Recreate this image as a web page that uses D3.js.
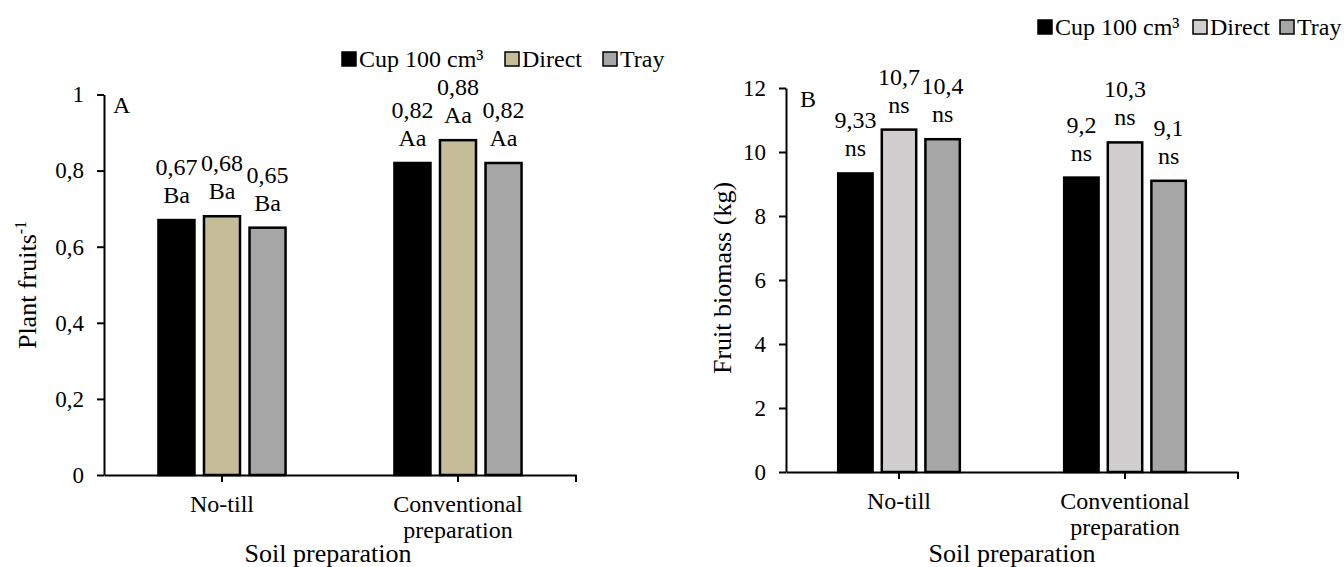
<html>
<head>
<meta charset="utf-8">
<script src="https://d3js.org/d3.v7.min.js"></script>
</head>
<body style="margin:0">
<script>
// DATA
var categories = ["No-till", "Conventional preparation"];
var seriesNames = ["Cup 100 cm³", "Direct", "Tray"];
var fruitsValues = [[0.67, 0.68, 0.65], [0.82, 0.88, 0.82]];
var fruitsLetters = [["Ba", "Ba", "Ba"], ["Aa", "Aa", "Aa"]];
var fruitsTicks = [0, 0.2, 0.4, 0.6, 0.8, 1];
var biomassValues = [[9.33, 10.7, 10.4], [9.2, 10.3, 9.1]];
var biomassLetters = [["ns", "ns", "ns"], ["ns", "ns", "ns"]];
var biomassTicks = [0, 2, 4, 6, 8, 10, 12];

var font = "'Liberation Serif', 'Times New Roman', serif";

var svg = d3.select("body").append("svg")
  .attr("width", 1344)
  .attr("height", 567)
  .style("background", "white")
  .style("display", "block");

// decimal comma
function fmt(v) { return String(v).replace(".", ","); }

//FUNCTION: draw one panel
function drawPanel(p) {
  var g = svg.append("g");

  var x = d3.scaleBand().domain(categories).range(p.xRange);
  var y = d3.scaleLinear().domain([0, p.max]).range(p.yRange);
  var groupW = x.bandwidth() * 0.547;
  var inner = d3.scaleBand().domain(seriesNames).range([0, groupW]).paddingInner(0.165);

  // bars
  var rows = [];
  categories.forEach(function (c, i) {
    seriesNames.forEach(function (s, j) {
      rows.push({ cat: c, ser: s, j: j, v: p.values[i][j], letter: p.letters[i][j] });
    });
  });

  var bx = function (d) { return x(d.cat) + x.bandwidth() / 2 - groupW / 2 + inner(d.ser); };

  g.selectAll("rect.bar").data(rows).enter().append("rect")
    .attr("class", "bar")
    .attr("x", function (d) { return bx(d) + 1; })
    .attr("y", function (d) { return y(d.v); })
    .attr("width", inner.bandwidth() - 2)
    .attr("height", function (d) { return y(0) - y(d.v); })
    .style("fill", function (d) { return p.colors[d.j]; })
    .style("stroke", "black")
    .style("stroke-width", 2.5);

  // value labels (two lines)
  g.selectAll("text.val").data(rows).enter().append("text")
    .attr("x", function (d) { return bx(d) + inner.bandwidth() / 2; })
    .attr("y", function (d) { return y(d.v) - 45; })
    .attr("text-anchor", "middle")
    .style("font-family", font).style("font-size", "24px")
    .text(function (d) { return fmt(d.v); });
  g.selectAll("text.let").data(rows).enter().append("text")
    .attr("x", function (d) { return bx(d) + inner.bandwidth() / 2; })
    .attr("y", function (d) { return y(d.v) - 17; })
    .attr("text-anchor", "middle")
    .style("font-family", font).style("font-size", "24px")
    .text(function (d) { return d.letter; });

  // y axis
  var ya = g.append("g")
    .attr("transform", "translate(" + p.xRange[0] + ",0)")
    .call(d3.axisLeft(y).tickValues(p.ticks).tickSize(7).tickSizeOuter(0).tickPadding(13).tickFormat(fmt));
  ya.selectAll("text").style("font-family", font).style("font-size", "23px").style("fill", "black");

  // x axis
  var xa = g.append("g")
    .attr("transform", "translate(0," + y(0) + ")")
    .call(d3.axisBottom(x).tickSize(7).tickSizeOuter(0).tickFormat(""));
  xa.append("line")
    .attr("x1", p.xRange[1]).attr("x2", p.xRange[1])
    .attr("y1", 0).attr("y2", 7)
    .style("stroke", "black");

  g.selectAll(".domain, .tick line").style("stroke", "black").style("stroke-width", 2);
  xa.select("line:last-child").style("stroke-width", 2);

  // category labels
  categories.forEach(function (c) {
    c.split(" ").forEach(function (line, k) {
      g.append("text")
        .attr("x", x(c) + x.bandwidth() / 2)
        .attr("y", y(0) + 37 + k * 26)
        .attr("text-anchor", "middle")
        .style("font-family", font).style("font-size", "24px")
        .text(line);
    });
  });

  // axis titles
  g.append("text")
    .attr("x", p.xTitleX).attr("y", 562)
    .attr("text-anchor", "middle")
    .style("font-family", font).style("font-size", "26px")
    .text("Soil preparation");

  var yt = g.append("text")
    .attr("transform", "translate(" + p.yTitle[0] + "," + p.yTitle[1] + ") rotate(-90)")
    .attr("text-anchor", "middle")
    .style("font-family", font).style("font-size", "26px");
  yt.append("tspan").text(p.yLabel);
  if (p.yLabelSup) {
    yt.append("tspan").attr("dy", -10).style("font-size", "16px").text(p.yLabelSup);
  }

  // panel letter
  g.append("text")
    .attr("x", p.letterPos[0]).attr("y", p.letterPos[1])
    .style("font-family", font).style("font-size", "24px")
    .text(p.letter);

  // legend
  var lg = g.selectAll("g.leg").data(seriesNames).enter().append("g")
    .attr("transform", function (d, i) { return "translate(" + p.legendX[i] + "," + p.legendY + ")"; });
  lg.append("rect")
    .attr("x", 0).attr("y", -7).attr("width", 14).attr("height", 14)
    .style("fill", function (d, i) { return p.colors[i]; })
    .style("stroke", "black").style("stroke-width", 1.5);
  lg.append("text")
    .attr("x", 17).attr("y", 8)
    .style("font-family", font).style("font-size", "24px")
    .text(function (d) { return d; });
}

drawPanel({
  values: fruitsValues, letters: fruitsLetters, ticks: fruitsTicks, max: 1,
  xRange: [104, 576], yRange: [475, 94.5],
  colors: ["#000000", "#c4bd97", "#a6a6a6"],
  yLabel: "Plant fruits", yLabelSup: "-1", yTitle: [36, 285],
  xTitleX: 328, letter: "A", letterPos: [113, 113],
  legendX: [342, 505, 603], legendY: 59
});

drawPanel({
  values: biomassValues, letters: biomassLetters, ticks: biomassTicks, max: 12,
  xRange: [786, 1238], yRange: [472, 88],
  colors: ["#000000", "#d0cece", "#a6a6a6"],
  yLabel: "Fruit biomass (kg)", yLabelSup: null, yTitle: [731, 278],
  xTitleX: 1012, letter: "B", letterPos: [800, 107],
  legendX: [1038, 1193, 1280], legendY: 27
});
</script>
</body>
</html>
